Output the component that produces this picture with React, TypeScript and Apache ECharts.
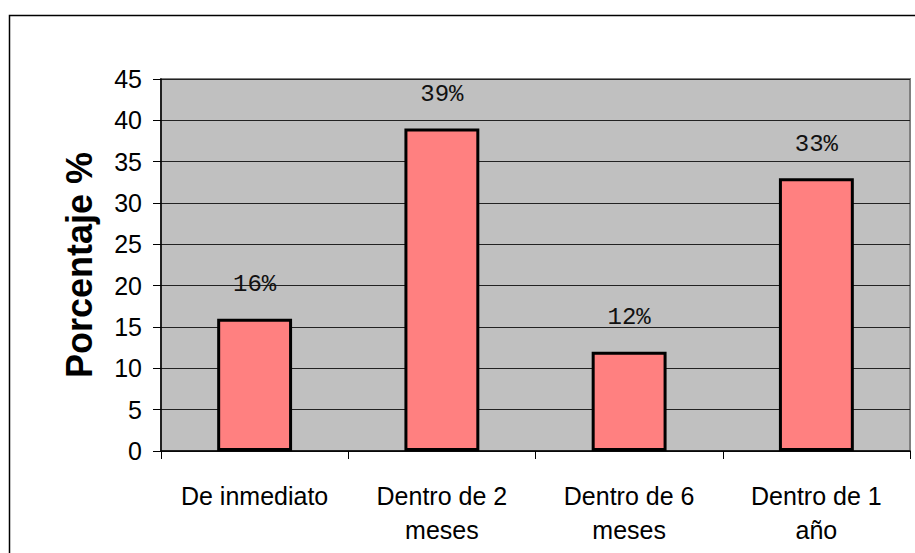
import React, { useEffect, useRef } from "react";
import * as echarts from "echarts";

// Encuesta: cuándo se espera actuar (porcentaje de respuestas)
const categories: string[] = [
  "De inmediato",
  "Dentro de 2\nmeses",
  "Dentro de 6\nmeses",
  "Dentro de 1\naño",
];
const percentages: number[] = [16, 39, 12, 33];
const yTicks = { min: 0, max: 45, interval: 5 };
const yAxisTitle = "Porcentaje %";

const SANS = '"Liberation Sans", Arial, sans-serif';
const MONO = '"Courier New", "Liberation Mono", monospace';

export default function App() {
  const ref = useRef<HTMLDivElement>(null);

  useEffect(() => {
    if (!ref.current) return;
    const chart = echarts.init(ref.current, undefined, { renderer: "svg" });
    chart.setOption({
      animation: false,
      backgroundColor: "#ffffff",
      graphic: [
        {
          type: "rect",
          shape: { x: 9.5, y: 15.5, width: 1000, height: 1000 },
          style: { fill: "none", stroke: "#000", lineWidth: 1.5 },
          silent: true,
          z: -1,
        },
      ],
      grid: {
        left: 161,
        top: 79,
        right: 5,
        bottom: 102,
        show: true,
        backgroundColor: "#c0c0c0",
        borderColor: "#808080",
        borderWidth: 2,
      },
      xAxis: {
        type: "category",
        data: categories,
        axisLine: { show: true, lineStyle: { color: "#000", width: 1.5 } },
        axisTick: { show: true, length: 8, lineStyle: { color: "#000" } },
        axisLabel: {
          color: "#000",
          fontFamily: SANS,
          fontSize: 25,
          lineHeight: 34,
          margin: 28,
          interval: 0,
        },
        splitLine: { show: false },
      },
      yAxis: {
        type: "value",
        min: yTicks.min,
        max: yTicks.max,
        interval: yTicks.interval,
        name: yAxisTitle,
        nameLocation: "middle",
        nameGap: 64,
        nameTextStyle: {
          color: "#000",
          fontFamily: SANS,
          fontSize: 36,
          fontWeight: "bold",
        },
        axisLine: { show: true, lineStyle: { color: "#000", width: 1.5 } },
        axisTick: { show: true, length: 8, lineStyle: { color: "#000" } },
        axisLabel: {
          color: "#000",
          fontFamily: SANS,
          fontSize: 25,
          margin: 19,
        },
        splitLine: { show: true, lineStyle: { color: "#222", width: 1 } },
      },
      series: [
        {
          type: "bar",
          data: percentages,
          barWidth: "40%",
          itemStyle: { color: "#ff8080", borderColor: "#000", borderWidth: 3 },
          label: {
            show: true,
            position: "top",
            distance: 22,
            color: "#111",
            fontFamily: MONO,
            fontSize: 24,
            fontWeight: "normal",
            formatter: (p: { value: number }) => `${p.value}%`,
          },
        },
      ],
    });
    return () => chart.dispose();
  }, []);

  return (
    <div
      ref={ref}
      style={{ position: "fixed", left: 0, top: 0, width: 915, height: 553 }}
    />
  );
}
